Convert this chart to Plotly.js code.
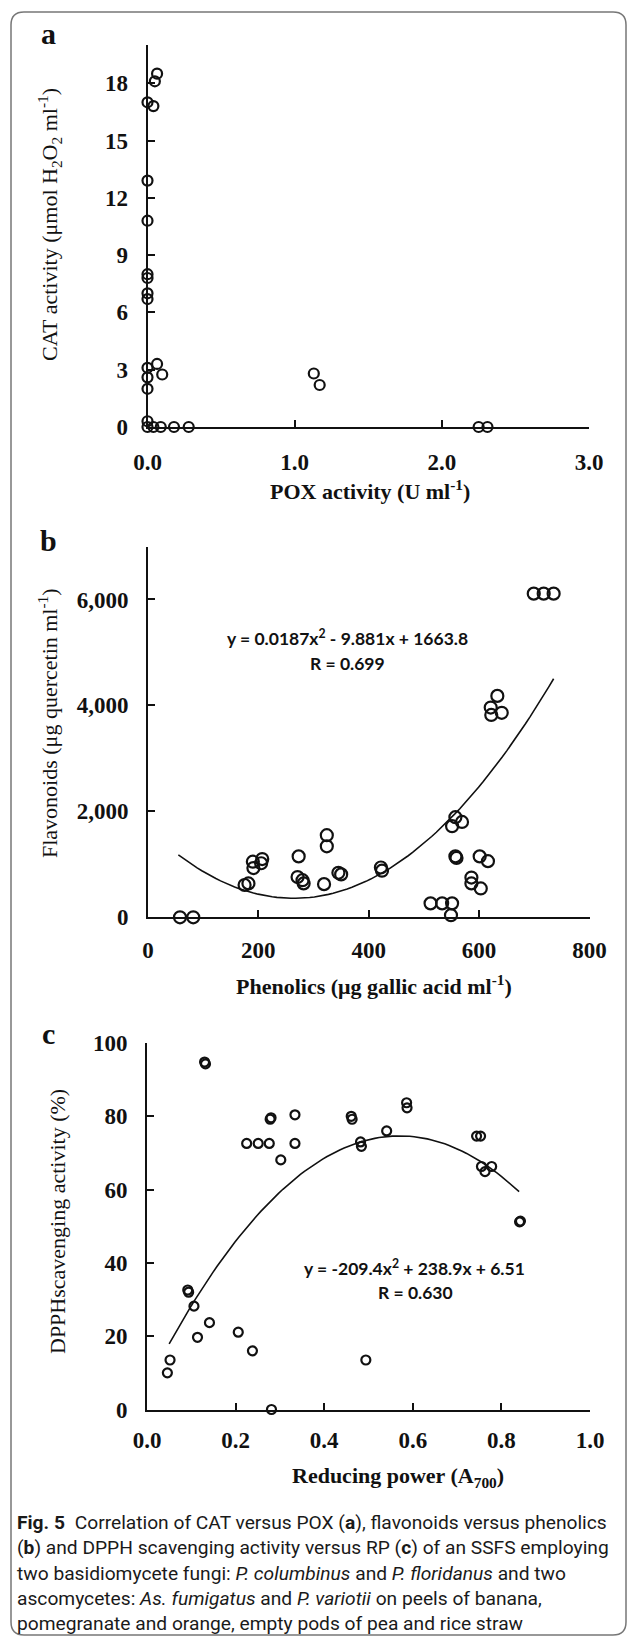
<!DOCTYPE html>
<html>
<head>
<meta charset="utf-8">
<script src="https://cdn.plot.ly/plotly-3.0.1.min.js"></script>
<style>html,body{margin:0;padding:0;background:#fff;}#chart{width:630px;height:1638px;}</style>
</head>
<body>
<div id="chart"></div>
<script>
// ---------- DATA ----------
// Panel a: CAT activity vs POX activity
const poxA = [0.065, 0.05, 0.0, 0.04, 0.0, 0.0, 0.0, 0.0, 0.0, 0.0, 0.0, 0.0, 0.0, 0.065, 0.10, 0.0, 0.0, 0.04, 0.09, 0.18, 0.28, 1.13, 1.17, 2.25, 2.31];
const catA = [18.5, 18.1, 17.0, 16.8, 12.9, 10.8, 8.0, 7.8, 7.0, 6.7, 3.1, 2.6, 2.0, 3.3, 2.75, 0.3, 0.0, 0.0, 0.0, 0.0, 0.0, 2.8, 2.2, 0.0, 0.0];

// Panel b: Flavonoids vs Phenolics
const phenB = [58, 82, 175, 182, 190, 191, 207, 205, 273, 271, 280, 282, 319, 324, 324, 345, 350, 422, 424, 512, 533, 551, 549, 557, 551, 569, 557, 559, 586, 586, 603, 601, 616, 621, 633, 622, 641, 699, 717, 735];
const flavB = [0, 0, 610, 640, 1050, 930, 1100, 1020, 1150, 760, 700, 640, 626, 1550, 1340, 840, 810, 940, 880, 263, 263, 263, 40, 1890, 1720, 1800, 1150, 1120, 750, 640, 545, 1150, 1060, 3960, 4180, 3820, 3860, 6110, 6110, 6110];
const fitB = [0.0187, -9.881, 1663.8];      // printed trend-line coefficients (a, b, c)
const fitBRange = [55, 735];

// Panel c: DPPH scavenging activity vs Reducing power
const rpC = [0.046, 0.052, 0.092, 0.094, 0.106, 0.114, 0.130, 0.132, 0.141, 0.206, 0.238, 0.225, 0.251, 0.276, 0.278, 0.280, 0.302, 0.334, 0.334, 0.281, 0.461, 0.463, 0.482, 0.484, 0.494, 0.541, 0.586, 0.587, 0.744, 0.753, 0.755, 0.763, 0.778, 0.841, 0.843];
const dpphC = [10.0, 13.5, 32.6, 32.0, 28.2, 19.7, 94.8, 94.3, 23.7, 21.1, 16.0, 72.6, 72.6, 72.6, 79.2, 79.6, 68.1, 80.4, 72.6, 0, 80.0, 79.2, 73.0, 71.8, 13.5, 76.0, 83.7, 82.3, 74.6, 74.6, 66.3, 64.9, 66.3, 51.2, 51.4];
const fitC = [-209.4, 238.9, 6.51];
const fitCRange = [0.05, 0.84];

// Tick labels
const tickValsA_y = [0, 3, 6, 9, 12, 15, 18];
const tickValsA_x = [0, 1, 2, 3];
const tickValsB_y = [0, 2000, 4000, 6000];
const tickValsB_x = [0, 200, 400, 600, 800];
const tickValsC_y = [0, 20, 40, 60, 80, 100];
const tickValsC_x = [0, 0.2, 0.4, 0.6, 0.8, 1.0];

// Texts
const eqB = ['y = 0.0187x<sup>2</sup> - 9.881x + 1663.8', 'R = 0.699'];
const eqC = ['y = -209.4x<sup>2</sup> + 238.9x + 6.51', 'R = 0.630'];
const captionLines = [
  '<b>Fig. 5</b>\u2002Correlation of CAT versus POX (<b>a</b>), flavonoids versus phenolics',
  '(<b>b</b>) and DPPH scavenging activity versus RP (<b>c</b>) of an SSFS employing',
  'two basidiomycete fungi: <i>P. columbinus</i> and <i>P. floridanus</i> and two',
  'ascomycetes: <i>As. fumigatus</i> and <i>P. variotii</i> on peels of banana,',
  'pomegranate and orange, empty pods of pea and rice straw'
];

// ---------- LAYOUT HELPERS ----------
const W = 630, H = 1638;
const fx = x => x / W;
const fy = y => 1 - y / H;

function quadCurve(c, r, n) {
  const xs = [], ys = [];
  for (let i = 0; i <= n; i++) {
    const x = r[0] + (r[1] - r[0]) * i / n;
    xs.push(x); ys.push(c[0] * x * x + c[1] * x + c[2]);
  }
  return {xs, ys};
}

const serif = 'Liberation Serif, Times New Roman, serif';
const tickFont = {family: serif, size: 23, color: '#111', weight: 'bold'};

function axisBase(extra) {
  return Object.assign({
    showline: true, linecolor: '#111', linewidth: 2,
    ticks: 'inside', ticklen: 7, tickwidth: 2, tickcolor: '#111',
    showgrid: false, zeroline: false, tickfont: tickFont,
    fixedrange: true, tickmode: 'array'
  }, extra);
}

const marker = size => ({symbol: 'circle-open', size: size, color: '#111', line: {width: 2.2, color: '#111'}});

const cb = quadCurve(fitB, fitBRange, 80);
const cc = quadCurve(fitC, fitCRange, 80);

const traces = [
  {x: poxA, y: catA, xaxis: 'x', yaxis: 'y', mode: 'markers', type: 'scatter', marker: marker(10), cliponaxis: false, hoverinfo: 'skip'},
  {x: cb.xs, y: cb.ys, xaxis: 'x2', yaxis: 'y2', mode: 'lines', type: 'scatter', line: {color: '#111', width: 1.6}, cliponaxis: false, hoverinfo: 'skip'},
  {x: phenB, y: flavB, xaxis: 'x2', yaxis: 'y2', mode: 'markers', type: 'scatter', marker: marker(12), cliponaxis: false, hoverinfo: 'skip'},
  {x: cc.xs, y: cc.ys, xaxis: 'x3', yaxis: 'y3', mode: 'lines', type: 'scatter', line: {color: '#111', width: 1.6}, cliponaxis: false, hoverinfo: 'skip'},
  {x: rpC, y: dpphC, xaxis: 'x3', yaxis: 'y3', mode: 'markers', type: 'scatter', marker: marker(9), cliponaxis: false, hoverinfo: 'skip'}
];

function ann(text, x, y, opts) {
  return Object.assign({text: text, x: fx(x), y: fy(y), xref: 'paper', yref: 'paper', showarrow: false,
    xanchor: 'center', yanchor: 'middle'}, opts);
}
const titleFontB = {family: serif, size: 22, color: '#111', weight: 'bold'};
const titleFontR = {family: serif, size: 22, color: '#111'};
const eqFont = {family: 'Lato, Open Sans, sans-serif', size: 17.5, color: '#111', weight: 'bold'};
const letterFont = {family: serif, size: 30, color: '#111', weight: 'bold'};
const capFont = {family: 'Roboto, Noto Sans, sans-serif', size: 19.2, color: '#1a1a1a'};

const annotations = [
  ann('a', 48, 33, {font: letterFont}),
  ann('b', 48, 541, {font: letterFont}),
  ann('c', 48, 1033, {font: letterFont}),
  ann('POX activity (U ml<sup>-1</sup>)', 370, 490, {font: titleFontB}),
  ann('Phenolics (μg gallic acid ml<sup>-1</sup>)', 374, 985, {font: titleFontB}),
  ann('Reducing power (A<sub>700</sub>)', 398, 1477, {font: titleFontB}),
  ann('CAT activity (μmol H<sub>2</sub>O<sub>2</sub> ml<sup>-1</sup>)', 50, 225, {font: titleFontR, textangle: -90}),
  ann('Flavonoids (μg quercetin ml<sup>-1</sup>)', 48, 723, {font: titleFontR, textangle: -90}),
  ann('DPPHscavenging activity (%)', 57, 1222, {font: titleFontR, textangle: -90}),
  ann(eqB[0], 347, 638, {font: eqFont}),
  ann(eqB[1], 347, 663, {font: eqFont}),
  ann(eqC[0], 414, 1267, {font: eqFont}),
  ann(eqC[1], 415, 1292, {font: eqFont})
];
const capY = [1522, 1547, 1573, 1598, 1623];
captionLines.forEach((t, i) => annotations.push(ann(t, 15, capY[i], {font: capFont, xanchor: 'left', align: 'left'})));

// rounded border
const L = 11, T = 12, R = 626, B = 1635, r = 13;
const P = (x, y) => fx(x) + ',' + fy(y);
const borderPath = 'M' + P(L + r, T) + ' L' + P(R - r, T) + ' Q' + P(R, T) + ' ' + P(R, T + r) +
  ' L' + P(R, B - r) + ' Q' + P(R, B) + ' ' + P(R - r, B) + ' L' + P(L + r, B) + ' Q' + P(L, B) + ' ' + P(L, B - r) +
  ' L' + P(L, T + r) + ' Q' + P(L, T) + ' ' + P(L + r, T) + ' Z';

const layout = {
  width: W, height: H, margin: {l: 0, r: 0, t: 0, b: 0}, paper_bgcolor: '#fff', plot_bgcolor: 'rgba(0,0,0,0)',
  showlegend: false,
  xaxis: axisBase({domain: [fx(147.5), fx(589)], range: [0, 3], anchor: 'y', tickvals: tickValsA_x, tickformat: '.1f', ticklabelstandoff: 13}),
  yaxis: axisBase({domain: [fy(427), fy(45)], range: [0, 20], anchor: 'x', tickvals: tickValsA_y, ticklabelstandoff: 13}),
  xaxis2: axisBase({domain: [fx(148), fx(589.5)], range: [0, 800], anchor: 'y2', tickvals: tickValsB_x, ticklabelstandoff: 11}),
  yaxis2: axisBase({domain: [fy(917.3), fy(546.5)], range: [0, 7000], anchor: 'x2', tickvals: tickValsB_y, tickformat: ',d', ticklabelstandoff: 13}),
  xaxis3: axisBase({domain: [fx(147), fx(590)], range: [0, 1], anchor: 'y3', tickvals: tickValsC_x, tickformat: '.1f', ticklabelstandoff: 9}),
  yaxis3: axisBase({domain: [fy(1409.5), fy(1043)], range: [0, 100], anchor: 'x3', tickvals: tickValsC_y, ticklabelstandoff: 13}),
  annotations: annotations,
  shapes: [{type: 'path', xref: 'paper', yref: 'paper', path: borderPath, line: {color: '#777', width: 1.5}}]
};

Plotly.newPlot('chart', traces, layout, {staticPlot: true, displayModeBar: false});
</script>
</body>
</html>
